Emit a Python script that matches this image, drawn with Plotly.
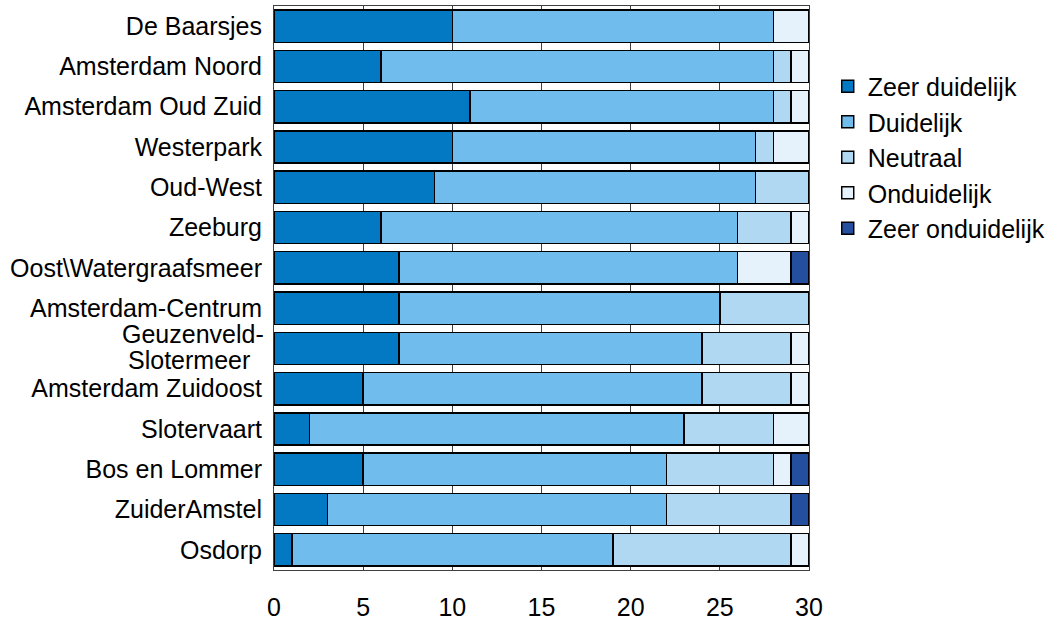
import plotly.graph_objects as go

categories = ["De Baarsjes", "Amsterdam Noord", "Amsterdam Oud Zuid", "Westerpark", "Oud-West",
              "Zeeburg", "Oost\\Watergraafsmeer", "Amsterdam-Centrum", "Geuzenveld-Slotermeer",
              "Amsterdam Zuidoost", "Slotervaart", "Bos en Lommer", "ZuiderAmstel", "Osdorp"]
tick_labels = ["De Baarsjes", "Amsterdam Noord", "Amsterdam Oud Zuid", "Westerpark", "Oud-West",
               "Zeeburg", "Oost\\Watergraafsmeer", "Amsterdam-Centrum", "",
               "Amsterdam Zuidoost", "Slotervaart", "Bos en Lommer", "ZuiderAmstel", "Osdorp"]
wrapped_label = ["Geuzenveld-", "Slotermeer\u00a0\u00a0"]

zeer_duidelijk = [10, 6, 11, 10, 9, 6, 7, 7, 7, 5, 2, 5, 3, 1]
duidelijk = [18, 22, 17, 17, 18, 20, 19, 18, 17, 19, 21, 17, 19, 18]
neutraal = [0, 1, 1, 1, 3, 3, 0, 5, 5, 5, 5, 6, 7, 10]
onduidelijk = [2, 1, 1, 2, 0, 1, 3, 0, 1, 1, 2, 1, 0, 1]
zeer_onduidelijk = [0, 0, 0, 0, 0, 0, 1, 0, 0, 0, 0, 1, 1, 0]

series = [
    ("Zeer duidelijk", zeer_duidelijk, "#0479C3"),
    ("Duidelijk", duidelijk, "#70BCEC"),
    ("Neutraal", neutraal, "#B1D8F3"),
    ("Onduidelijk", onduidelijk, "#E5F1FB"),
    ("Zeer onduidelijk", zeer_onduidelijk, "#244F9E"),
]

FONT = "Liberation Sans, Arial, sans-serif"

fig = go.Figure()
for i, (name, vals, col) in enumerate(series):
    fig.add_trace(go.Bar(
        y=categories, x=vals, name=name, orientation="h",
        marker=dict(color=col, line=dict(color="#000000", width=1.5)),
        legendgroup=str(i),
    ))

# two-line label with tighter line spacing
for txt, shift in zip(wrapped_label, [14, -12]):
    fig.add_annotation(x=0, xref="paper", y="Geuzenveld-Slotermeer", yref="y",
                       text=txt, showarrow=False, xanchor="right", yanchor="middle",
                       xshift=-8, yshift=shift,
                       font=dict(family=FONT, size=25, color="#000000"))

fig.update_layout(
    barmode="stack",
    bargap=0.2,
    width=1060, height=623,
    margin=dict(l=274, r=251, t=6, b=53),
    paper_bgcolor="white", plot_bgcolor="white",
    font=dict(family=FONT, size=25, color="#000000"),
    showlegend=True,
    legend=dict(x=1.035, xanchor="left", xref="paper", y=0.898, yanchor="top",
                traceorder="grouped", tracegroupgap=0,
                font=dict(size=25), itemwidth=30, bgcolor="rgba(0,0,0,0)"),
    xaxis=dict(range=[0, 30], tickvals=[0, 5, 10, 15, 20, 25, 30],
               showgrid=True, gridcolor="#404040", gridwidth=1,
               showline=True, linecolor="#404040", linewidth=1, mirror=True,
               zeroline=False, ticks="", ticklabelstandoff=15, automargin=False),
    yaxis=dict(autorange="reversed", showline=True, linecolor="#404040", linewidth=1, mirror=True,
               tickvals=categories, ticktext=tick_labels,
               ticks="", ticklabelstandoff=6, showgrid=False, automargin=False),
)

fig.write_html("out.html")
